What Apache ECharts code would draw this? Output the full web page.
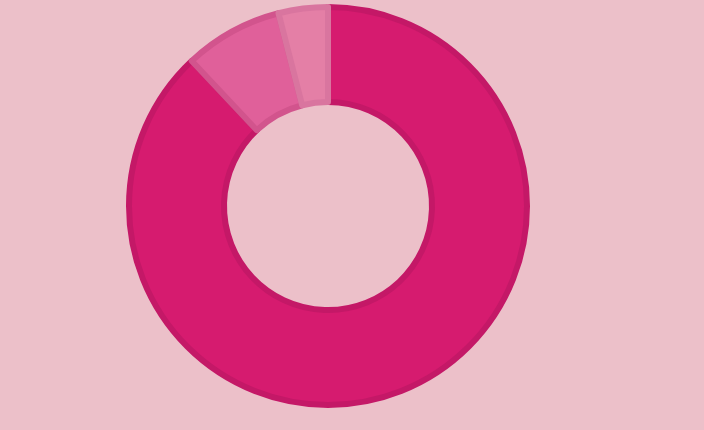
<!DOCTYPE html>
<html>
<head>
<meta charset="utf-8">
<script src="https://cdn.jsdelivr.net/npm/echarts@6/dist/echarts.min.js"></script>
<style>
html,body{margin:0;padding:0;background:#ecc0c9;}
#c{width:704px;height:430px;}
</style>
</head>
<body>
<div id="c"></div>
<script>
const categories = ['A', 'B', 'C'];
const values = [88, 8, 4];
const fills = ['#d61b6f', '#e0609a', '#e47fa6'];
const borders = ['#c41867', '#d2548d', '#d9759f'];

const chart = echarts.init(document.getElementById('c'));
chart.setOption({
  backgroundColor: '#ecc0c9',
  animation: false,
  series: [{
    type: 'pie',
    center: [328, 206],
    radius: [104, 199],
    startAngle: 90,
    clockwise: true,
    label: { show: false },
    labelLine: { show: false },
    data: categories.map((c, i) => ({
      name: c,
      value: values[i],
      itemStyle: { color: fills[i], borderColor: borders[i], borderWidth: 6 }
    }))
  }]
});
</script>
</body>
</html>
